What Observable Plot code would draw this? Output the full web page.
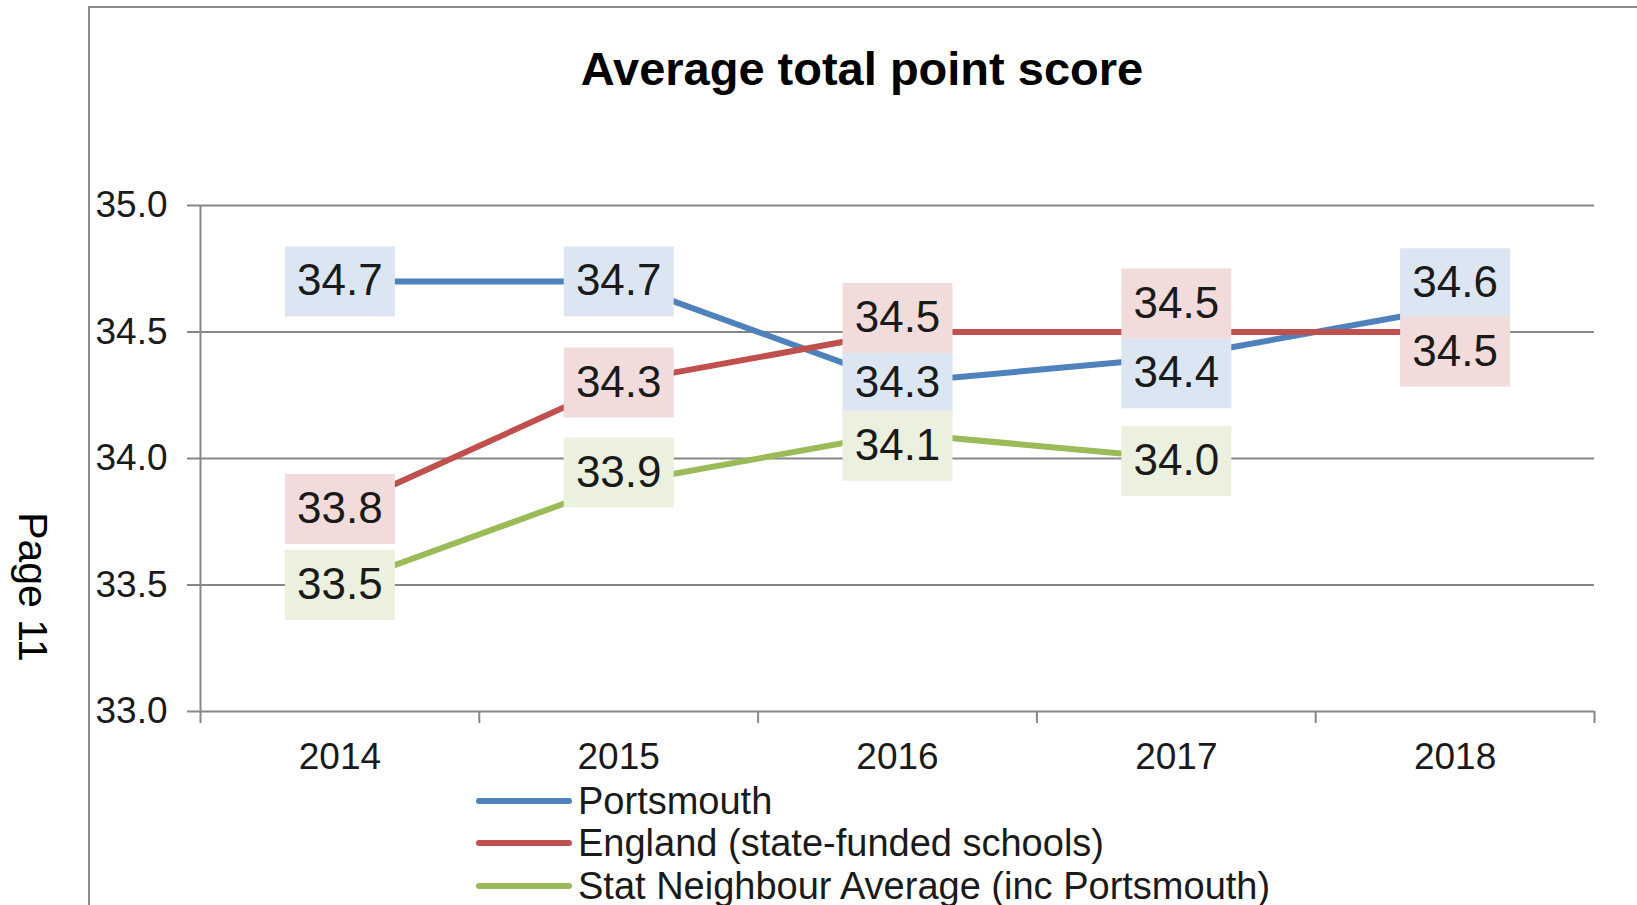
<!DOCTYPE html>
<html>
<head>
<meta charset="utf-8">
<script src="https://cdn.jsdelivr.net/npm/d3@7"></script>
<script src="https://cdn.jsdelivr.net/npm/@observablehq/plot@0.6"></script>
<style>
  html, body { margin: 0; padding: 0; background: #fff; }
  #wrap { position: relative; width: 1637px; height: 905px; overflow: hidden; font-family: "Liberation Sans", Arial, sans-serif; color: #1a1a1a; }
  #frame { position: absolute; left: 88px; top: 6px; width: 1700px; height: 1000px; border-left: 2px solid #8c8c8c; border-top: 2px solid #8c8c8c; }
  #title { position: absolute; left: 362px; width: 1000px; top: 45px; text-align: center; font-size: 47px; font-weight: bold; line-height: 47px; color: #000; }
  #page { position: absolute; left: 32px; top: 587px; font-size: 41px; line-height: 41px; color: #000; white-space: nowrap; transform: translate(-50%, -50%) rotate(90deg); }
  #chart { position: absolute; left: 0; top: 0; }
  .leg-sw { position: absolute; height: 6px; border-radius: 3px; }
  .leg-tx { position: absolute; font-size: 38px; line-height: 38px; white-space: nowrap; color: #1a1a1a; }
</style>
</head>
<body>
<div id="wrap">
  <div id="frame"></div>
  <div id="title">Average total point score</div>
  <div id="page">Page 11</div>
  <div id="chart"></div>
  <div id="legend"></div>
</div>
<script>
// ---- data ----
const years = [2014, 2015, 2016, 2017, 2018];
const seriesNames = ["Portsmouth", "England (state-funded schools)", "Stat Neighbour Average (inc Portsmouth)"];
const portsmouth = [34.7, 34.7, 34.3, 34.4, 34.6];
const england = [33.8, 34.3, 34.5, 34.5, 34.5];
const statNeighbour = [33.5, 33.9, 34.1, 34.0, null];
const yTicks = [33.0, 33.5, 34.0, 34.5, 35.0];

// ---- styling / label placement (Excel manual label nudges, in value units) ----
const lineColors = ["#4f81bd", "#c0504d", "#9bbb59"];
const boxColors = ["#dce6f2", "#f2dcdb", "#ebf1de"];
const labelNudge = [
  [0, 0, 0, -0.063, 0.093],
  [0, 0, 0.055, 0.113, -0.077],
  [0, 0.045, -0.05, -0.01, 0]
];

const seriesValues = [portsmouth, england, statNeighbour];
const rows = [];
seriesValues.forEach((vals, si) => {
  vals.forEach((v, i) => {
    if (v != null) rows.push({series: seriesNames[si], si, year: years[i], value: v, ly: v + labelNudge[si][i]});
  });
});

const boundaries = [years[0] - 0.5, ...years.map(y => y + 0.5)];

const boxSymbol = { draw(context) { context.rect(-55, -35, 110, 70); } };

const fontFamily = '"Liberation Sans", Arial, sans-serif';
const axisColor = "#878787";

const marks = [
  Plot.gridY(yTicks, {stroke: axisColor, strokeOpacity: 1, strokeWidth: 2}),
  Plot.ruleX([boundaries[0]], {y1: yTicks[0], y2: yTicks[yTicks.length - 1], stroke: axisColor, strokeWidth: 2}),
  Plot.axisY(yTicks, {tickSize: 13, tickPadding: 20, stroke: axisColor, strokeWidth: 2, tickFormat: d => d.toFixed(1), fontSize: 37, fill: "#1a1a1a", label: null}),
  Plot.axisX(boundaries, {tickSize: 12, stroke: axisColor, strokeWidth: 2, tickFormat: () => "", label: null}),
  Plot.axisX(years, {tickSize: 0, tickPadding: 31, tickFormat: d => String(d), fontSize: 37, fill: "#1a1a1a", label: null}),
];

seriesNames.forEach((name, si) => {
  marks.push(Plot.line(rows.filter(r => r.si === si), {x: "year", y: "value", stroke: lineColors[si], strokeWidth: 6, strokeLinejoin: "round"}));
});
seriesNames.forEach((name, si) => {
  const sub = rows.filter(r => r.si === si);
  marks.push(Plot.dot(sub, {x: "year", y: "ly", symbol: boxSymbol, r: 10, fill: boxColors[si], stroke: null}));
  marks.push(Plot.text(sub, {x: "year", y: "ly", text: d => d.value.toFixed(1), fontSize: 44, fill: "#1a1a1a", textAnchor: "middle", lineAnchor: "middle"}));
});

const chart = Plot.plot({
  width: 1637,
  height: 780,
  marginLeft: 200,
  marginRight: 43,
  marginTop: 205,
  marginBottom: 69,
  x: {type: "linear", domain: [boundaries[0], boundaries[boundaries.length - 1]], label: null},
  y: {domain: [yTicks[0], yTicks[yTicks.length - 1]], label: null},
  style: {fontFamily, background: "transparent", color: "#1a1a1a", overflow: "visible"},
  marks
});
document.getElementById("chart").appendChild(chart);

// ---- legend ----
const legend = document.getElementById("legend");
const legendRowY = [801, 843, 886];
seriesNames.forEach((name, si) => {
  const sw = document.createElement("div");
  sw.className = "leg-sw";
  sw.style.left = "476px";
  sw.style.width = "96px";
  sw.style.top = (legendRowY[si] - 3) + "px";
  sw.style.background = lineColors[si];
  legend.appendChild(sw);
  const tx = document.createElement("div");
  tx.className = "leg-tx";
  tx.style.left = "578px";
  tx.style.top = (legendRowY[si] - 19) + "px";
  tx.textContent = name;
  legend.appendChild(tx);
});
</script>
</body>
</html>
